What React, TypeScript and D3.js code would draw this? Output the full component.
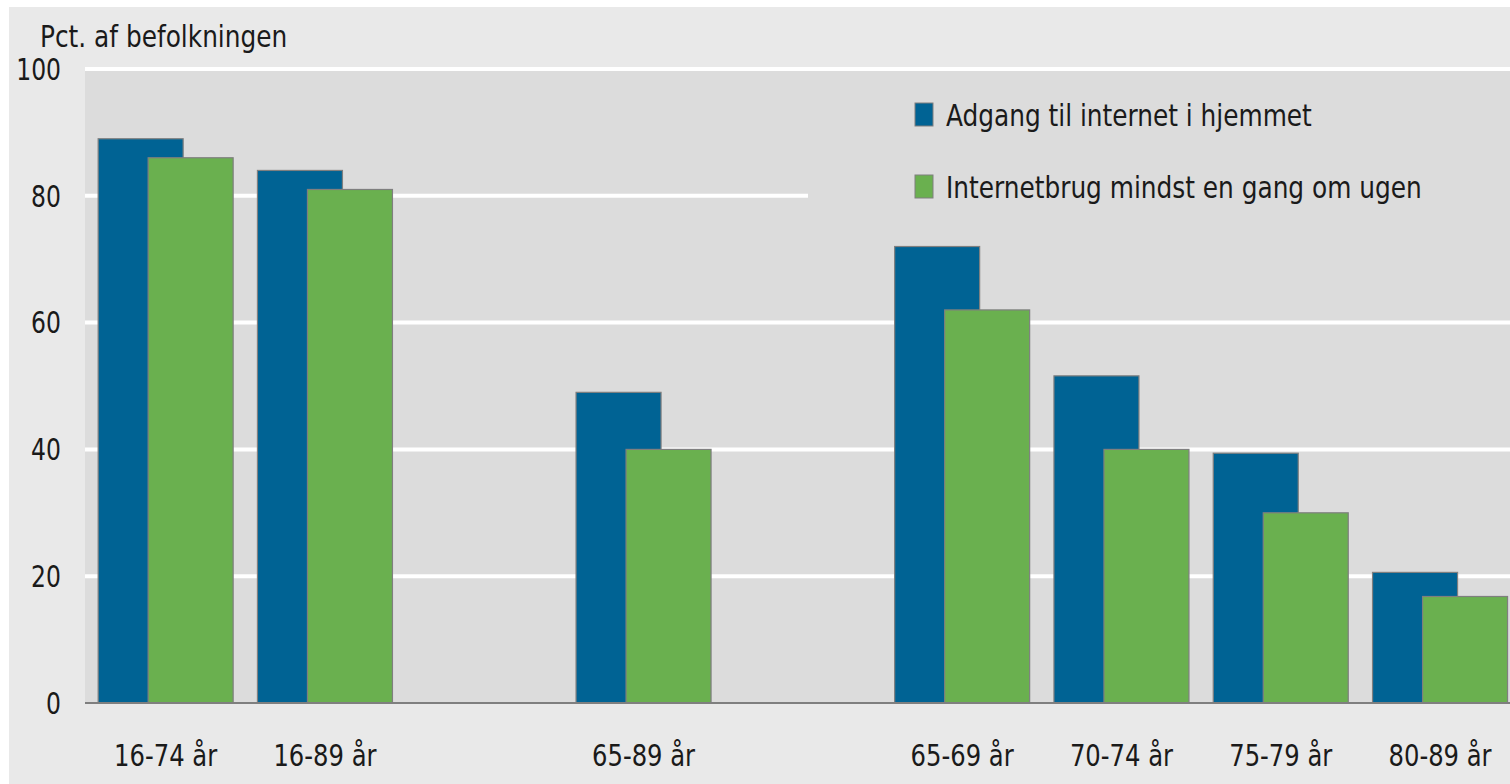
import React from "react";
import * as d3 from "d3";

const categories = ["16-74 år", "16-89 år", "", "65-89 år", " ", "65-69 år", "70-74 år", "75-79 år", "80-89 år"];
const seriesNames = ["Adgang til internet i hjemmet", "Internetbrug mindst en gang om ugen"];
const adgang = [89, 84, null, 49, null, 72, 51.6, 39.4, 20.6];
const internetbrug = [86, 81, null, 40, null, 62, 40, 30, 16.8];
const yTicks = [0, 20, 40, 60, 80, 100];
const colors = ["#006394", "#6ab04f"];
const series = [adgang, internetbrug];

const W = 1510;
const H = 784;
const FONT = "'Liberation Sans Narrow', 'DejaVu Sans Condensed', 'Open Sans', sans-serif";

function T(props: { x: number; y: number; sx: number; size: number; anchor?: string; dy?: string; children: React.ReactNode }) {
  return (
    <text
      transform={`translate(${props.x},${props.y}) scale(${props.sx},1)`}
      dy={props.dy}
      textAnchor={props.anchor || "start"}
      fontSize={props.size}
      fill="#1a1a1a"
    >
      {props.children}
    </text>
  );
}

export default function App() {
  const x = d3.scaleBand<string>().domain(categories).range([86, 86 + 9 * 159.3]).padding(0);
  const y = d3.scaleLinear().domain([0, 100]).range([703, 69]);
  const barW = 85;
  const off = d3.scaleLinear().domain([0, 1]).range([-67.5, -17.5]);
  const plotLeft = 85;

  return (
    <svg width={W} height={H} style={{ position: "absolute", left: 0, top: 0, fontFamily: FONT }}>
      <rect x={0} y={0} width={W} height={H} fill="#ffffff" />
      <rect x={9} y={7} width={W - 9} height={H - 7} fill="#e9e9e9" />
      <rect x={plotLeft} y={y(100)} width={W - plotLeft} height={y(0) - y(100)} fill="#dcdcdc" />
      {yTicks.filter((t) => t > 0).map((t) => (
        <line key={t} x1={plotLeft} x2={W} y1={y(t)} y2={y(t)} stroke="#ffffff" strokeWidth={4} />
      ))}
      {/* legend box */}
      <rect x={808} y={80} width={W - 808} height={160} fill="#dcdcdc" />
      {series.map((s, si) =>
        s.map((v, i) =>
          v == null ? null : (
            <rect
              key={si + "-" + i}
              x={(x(categories[i]) as number) + x.bandwidth() / 2 + off(si)}
              y={y(v)}
              width={barW}
              height={y(0) - y(v)}
              fill={colors[si]}
              stroke="#7f7f7f"
              strokeWidth={1.2}
            />
          )
        )
      )}
      <line x1={plotLeft} x2={W} y1={y(0)} y2={y(0)} stroke="#7f7f7f" strokeWidth={2} />
      {yTicks.map((t) => (
        <T key={t} x={61} y={y(t)} dy="0.36em" anchor="end" size={30} sx={0.87}>
          {t}
        </T>
      ))}
      {categories.map((c, i) =>
        c.trim() === "" ? null : (
          <T key={i} x={(x(c) as number) + x.bandwidth() / 2} y={766} anchor="middle" size={30} sx={0.9}>
            {c}
          </T>
        )
      )}
      <T x={40} y={47} size={30} sx={0.92}>Pct. af befolkningen</T>
      {seriesNames.map((n, i) => (
        <g key={n} transform={`translate(915, ${103 + i * 72})`}>
          <rect x={0} y={0} width={18} height={23} fill={colors[i]} stroke="#7f7f7f" strokeWidth={1} />
          <T x={31} y={23} size={31} sx={0.89}>{n}</T>
        </g>
      ))}
    </svg>
  );
}
